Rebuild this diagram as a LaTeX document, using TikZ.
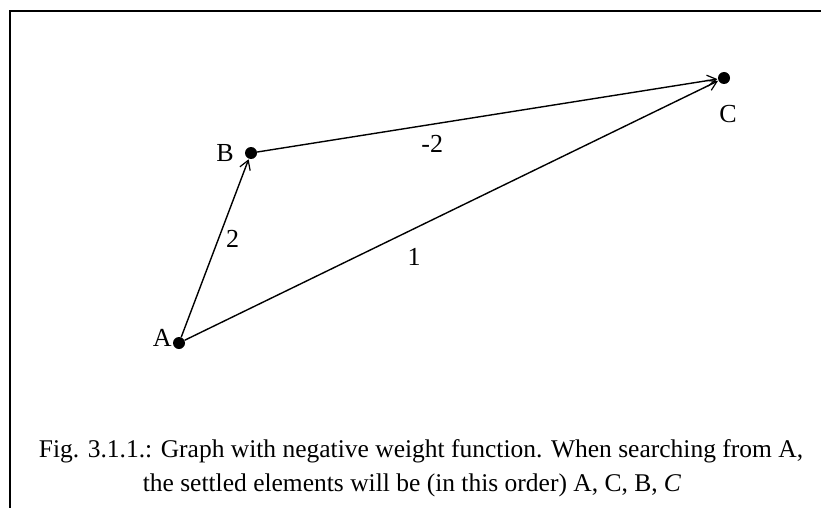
\documentclass[tikz,border=0pt]{standalone}
\usepackage{fontspec}
\setmainfont{Liberation Serif}
\usetikzlibrary{arrows.meta, positioning}
\tikzset{
  gvtx/.style={circle, fill=black, inner sep=0pt, minimum size=12pt},
  glbl/.style={font=\fontsize{26}{30}\selectfont, inner sep=2pt},
  garr/.style={-{Straight Barb[length=9pt,width=11pt,line width=1.2pt]}, line width=1.4pt, shorten >=0.5pt},
  gcap/.style={font=\fontsize{25.5}{34}\selectfont, inner sep=0pt},
}
\begin{document}
\begin{tikzpicture}[x=1pt, y=-1pt]
  \useasboundingbox (0,0) rectangle (821,508);
  % frame
  \draw[line width=1.4pt] (10,508) -- (10,11) -- (821,11);
  % vertices
  \node[gvtx, label={[glbl, label distance=-1pt, yshift=5pt]180:A}] (A) at (179,343) {};
  \node[gvtx, label={[glbl, label distance=9pt]180:B}] (B) at (251,153) {};
  \node[gvtx, label={[glbl, label distance=19pt, xshift=4pt]-90:C}] (C) at (724,78) {};
  % edges
  \draw[garr] (A) -- node[glbl, right=5pt, pos=0.55] (wab) {2} (B);
  \draw[garr] (B) -- node[glbl, below=8pt, pos=0.38] (wbc) {-2} (C);
  \draw[garr] (A) -- node[glbl, below=17pt, pos=0.43] (wac) {1} (C);
  % caption
  \node[gcap] (cap1) at (421,451) {Fig. 3.1.1.: Graph with negative weight function. When searching from A,};
  \node[gcap] (cap2) at (412,485) {the settled elements will be (in this order) A, C, B, \textit{C}};
\end{tikzpicture}
\end{document}
